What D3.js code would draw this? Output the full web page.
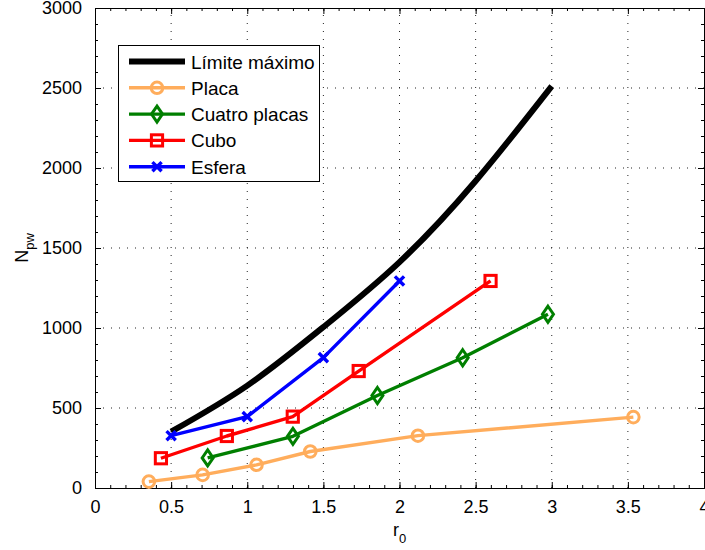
<!DOCTYPE html>
<html>
<head>
<meta charset="utf-8">
<script src="https://cdn.jsdelivr.net/npm/d3@7"></script>
<style>
  html, body { margin: 0; padding: 0; background: #fff; }
  svg { display: block; font-family: "Liberation Sans", Arial, Helvetica, sans-serif; }
</style>
</head>
<body>
<svg id="chart" width="705" height="550"></svg>
<script>
// Límite máximo (smooth upper bound)
const rLimite = [0.5, 1, 1.5, 2, 2.5, 3];
const nLimite = [352, 640, 1006, 1412, 1919, 2512];

// Placa
const rPlaca = [0.354, 0.707, 1.061, 1.414, 2.121, 3.536];
const nPlaca = [40, 82, 145, 228, 327, 443];

// Cuatro placas
const rCuatro = [0.74, 1.30, 1.855, 2.415, 2.975];
const nCuatro = [188, 323, 578, 814, 1086];

// Cubo
const rCubo = [0.433, 0.866, 1.299, 1.732, 2.598];
const nCubo = [186, 325, 446, 731, 1294];

// Esfera
const rEsfera = [0.5, 1, 1.5, 2];
const nEsfera = [327, 446, 815, 1294];

const xTicks = [0, 0.5, 1, 1.5, 2, 2.5, 3, 3.5, 4];
const yTicks = [0, 500, 1000, 1500, 2000, 2500, 3000];

const zip = (xs, ys) => xs.map((x, i) => ({ x, y: ys[i] }));

const series = [
  { name: "Límite máximo", data: zip(rLimite, nLimite), color: "#000000", width: 6, marker: null, curve: d3.curveNatural },
  { name: "Placa", data: zip(rPlaca, nPlaca), color: "#FFAD5C", width: 3.4, marker: "circle", curve: d3.curveLinear },
  { name: "Cuatro placas", data: zip(rCuatro, nCuatro), color: "#007F00", width: 3.4, marker: "diamond", curve: d3.curveLinear },
  { name: "Cubo", data: zip(rCubo, nCubo), color: "#FF0000", width: 3.4, marker: "square", curve: d3.curveLinear },
  { name: "Esfera", data: zip(rEsfera, nEsfera), color: "#0000FF", width: 3.4, marker: "cross", curve: d3.curveLinear }
];

const svg = d3.select("#chart");
const plotLeft = 95, plotRight = 704, plotTop = 8, plotBottom = 488;

const x = d3.scaleLinear().domain([0, 4]).range([plotLeft, plotRight]);
const y = d3.scaleLinear().domain([0, 3000]).range([plotBottom, plotTop]);

// dotted grid at major ticks
const grid = svg.append("g").attr("stroke", "#222").attr("stroke-width", 1).attr("stroke-dasharray", "1 7");
xTicks.filter(t => t > 0 && t < 4).forEach(t => {
  grid.append("line").attr("x1", x(t)).attr("x2", x(t)).attr("y1", plotBottom).attr("y2", plotTop);
});
yTicks.filter(t => t > 0 && t < 3000).forEach(t => {
  grid.append("line").attr("x1", plotLeft).attr("x2", plotRight).attr("y1", y(t)).attr("y2", y(t));
});

// axes with inward ticks on all four sides
const xMinor = d3.range(0, 4.0001, 0.1);
const yMinor = d3.range(0, 3000.1, 100);

const axBottom = d3.axisBottom(x).tickValues(xTicks).tickFormat(d3.format("")).tickSizeInner(-6).tickSizeOuter(0).tickPadding(12);
const axLeft = d3.axisLeft(y).tickValues(yTicks).tickFormat(d3.format("")).tickSizeInner(-6).tickSizeOuter(0).tickPadding(13);
const axTop = d3.axisTop(x).tickValues(xTicks).tickFormat("").tickSizeInner(-6).tickSizeOuter(0);
const axRight = d3.axisRight(y).tickValues(yTicks).tickFormat("").tickSizeInner(-6).tickSizeOuter(0);

const minorBottom = d3.axisBottom(x).tickValues(xMinor).tickFormat("").tickSizeInner(-3).tickSizeOuter(0);
const minorTop = d3.axisTop(x).tickValues(xMinor).tickFormat("").tickSizeInner(-3).tickSizeOuter(0);
const minorLeft = d3.axisLeft(y).tickValues(yMinor).tickFormat("").tickSizeInner(-3).tickSizeOuter(0);
const minorRight = d3.axisRight(y).tickValues(yMinor).tickFormat("").tickSizeInner(-3).tickSizeOuter(0);

function styleAxis(g) {
  g.selectAll("path").attr("stroke", "#000").attr("stroke-width", 1);
  g.selectAll("line").attr("stroke", "#000").attr("stroke-width", 1);
  g.selectAll("text").attr("fill", "#000").attr("font-size", 18).attr("font-family", "Liberation Sans, Arial, sans-serif");
}

svg.append("g").attr("transform", `translate(0,${plotBottom})`).call(minorBottom).call(styleAxis);
svg.append("g").attr("transform", `translate(0,${plotTop})`).call(minorTop).call(styleAxis);
svg.append("g").attr("transform", `translate(${plotLeft},0)`).call(minorLeft).call(styleAxis);
svg.append("g").attr("transform", `translate(${plotRight},0)`).call(minorRight).call(styleAxis);

svg.append("g").attr("transform", `translate(0,${plotBottom})`).call(axBottom).call(styleAxis);
svg.append("g").attr("transform", `translate(0,${plotTop})`).call(axTop).call(styleAxis);
svg.append("g").attr("transform", `translate(${plotLeft},0)`).call(axLeft).call(styleAxis);
svg.append("g").attr("transform", `translate(${plotRight},0)`).call(axRight).call(styleAxis);

// axis titles
const xt = svg.append("text").attr("x", x(2)).attr("y", 536).attr("text-anchor", "middle")
  .attr("font-size", 18).attr("fill", "#000");
xt.append("tspan").text("r");
xt.append("tspan").attr("font-size", 13).attr("dy", 7).text("0");

const yt = svg.append("text").attr("transform", `translate(28,${y(1500)}) rotate(-90)`).attr("text-anchor", "middle")
  .attr("font-size", 18).attr("fill", "#000");
yt.append("tspan").text("N");
yt.append("tspan").attr("font-size", 13).attr("dy", 6).text("pw");

// marker drawing
function drawMarker(g, type, cx, cy, color) {
  if (type === "circle") {
    g.append("circle").attr("cx", cx).attr("cy", cy).attr("r", 5.8)
      .attr("fill", "none").attr("stroke", color).attr("stroke-width", 3);
  } else if (type === "square") {
    g.append("rect").attr("x", cx - 5.6).attr("y", cy - 5.6).attr("width", 11.2).attr("height", 11.2)
      .attr("fill", "none").attr("stroke", color).attr("stroke-width", 3);
  } else if (type === "diamond") {
    g.append("path").attr("d", `M${cx},${cy - 8}L${cx + 5.5},${cy}L${cx},${cy + 8}L${cx - 5.5},${cy}Z`)
      .attr("fill", "none").attr("stroke", color).attr("stroke-width", 3);
  } else if (type === "cross") {
    const s = 4.6;
    g.append("path").attr("d", `M${cx - s},${cy - s}L${cx + s},${cy + s}M${cx - s},${cy + s}L${cx + s},${cy - s}`)
      .attr("fill", "none").attr("stroke", color).attr("stroke-width", 3.4);
  }
}

const plot = svg.append("g");
series.forEach(s => {
  const line = d3.line().x(d => x(d.x)).y(d => y(d.y)).curve(s.curve);
  plot.append("path").datum(s.data).attr("d", line)
    .attr("fill", "none").attr("stroke", s.color).attr("stroke-width", s.width)
    .attr("stroke-linejoin", "round");
  if (s.marker) {
    s.data.forEach(d => drawMarker(plot, s.marker, x(d.x), y(d.y), s.color));
  }
});

// legend
const lg = svg.append("g");
lg.append("rect").attr("x", 118.5).attr("y", 45.5).attr("width", 201).attr("height", 136)
  .attr("fill", "#fff").attr("stroke", "#000").attr("stroke-width", 1);
series.forEach((s, i) => {
  const ly = 61.5 + i * 26.3;
  lg.append("line").attr("x1", 129).attr("x2", 185).attr("y1", ly).attr("y2", ly)
    .attr("stroke", s.color).attr("stroke-width", s.width);
  if (s.marker) drawMarker(lg, s.marker, 157, ly, s.color);
  lg.append("text").attr("x", 191).attr("y", ly + 7).attr("font-size", 19).attr("fill", "#000").text(s.name);
});
</script>
</body>
</html>
